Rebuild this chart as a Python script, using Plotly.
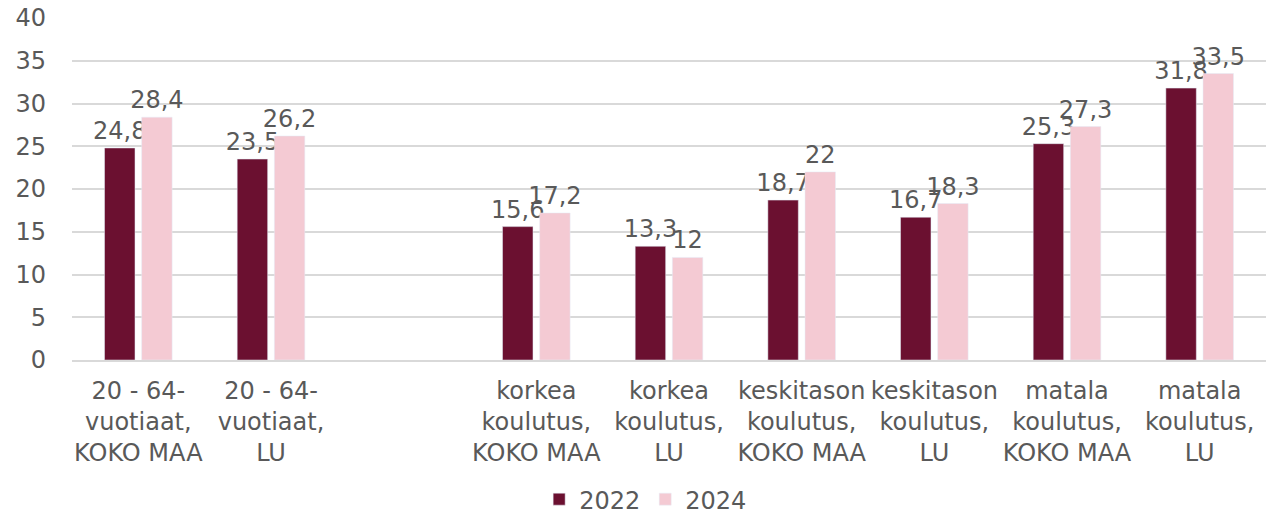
import plotly.graph_objects as go

categories = [
    "20 - 64-<br>vuotiaat,<br>KOKO MAA",
    "20 - 64-<br>vuotiaat,<br>LU",
    " ",
    "korkea<br>koulutus,<br>KOKO MAA",
    "korkea<br>koulutus,<br>LU",
    "keskitason<br>koulutus,<br>KOKO MAA",
    "keskitason<br>koulutus,<br>LU",
    "matala<br>koulutus,<br>KOKO MAA",
    "matala<br>koulutus,<br>LU",
]
values_2022 = [24.8, 23.5, None, 15.6, 13.3, 18.7, 16.7, 25.3, 31.8]
values_2024 = [28.4, 26.2, None, 17.2, 12.0, 22.0, 18.3, 27.3, 33.5]
y_ticks = [0, 5, 10, 15, 20, 25, 30, 35, 40]


def fmt(v):
    if v is None:
        return ""
    s = f"{v:.1f}".rstrip("0").rstrip(".")
    return s.replace(".", ",")


FONT = "Verdana, DejaVu Sans, sans-serif"
GREY = "#595959"
FS = 24

fig = go.Figure()
for name, vals, col in [("2022", values_2022, "#6B1030"), ("2024", values_2024, "#F4CAD3")]:
    fig.add_trace(go.Bar(
        x=categories, y=vals, name=name, marker_color=col,
        text=[fmt(v) for v in vals], textposition="outside",
        constraintext="none", cliponaxis=False,
        textfont=dict(family=FONT, size=FS, color=GREY),
        hoverinfo="skip",
    ))

fig.update_layout(
    width=1276, height=515,
    margin=dict(l=72, r=10, t=18, b=155, autoexpand=False),
    paper_bgcolor="white", plot_bgcolor="white",
    barmode="group", bargap=0.44, bargroupgap=0.18,
    font=dict(family=FONT, size=FS, color=GREY),
    showlegend=True,
    legend=dict(orientation="h", x=0.506, xanchor="center", xref="container",
                y=0.03, yanchor="middle", yref="container",
                font=dict(size=FS, color=GREY), itemwidth=30, traceorder="normal"),
    xaxis=dict(type="category", showgrid=False, showline=True, linecolor="#D9D9D9",
               linewidth=1.5, ticks="", automargin=False,
               tickfont=dict(size=FS, color=GREY), ticklabelstandoff=8),
    yaxis=dict(range=[0, 40], tickvals=y_ticks, showgrid=True, gridcolor="#D9D9D9",
               gridwidth=1.5, zeroline=False, showline=False, ticks="",
               automargin=False,
               tickfont=dict(size=FS, color=GREY), ticklabelstandoff=25),
)

fig.write_html("out.html", config={"displayModeBar": False},
               post_script="document.body.style.margin='0';document.body.style.overflow='hidden';")
